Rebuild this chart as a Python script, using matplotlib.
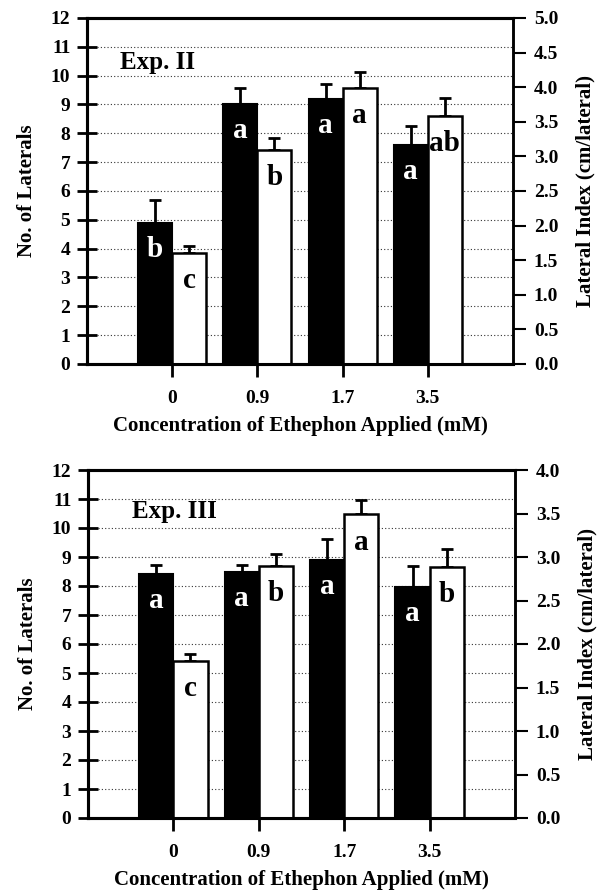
import matplotlib
matplotlib.use("Agg")
import matplotlib.pyplot as plt
import numpy as np

plt.rcParams['font.family'] = ['Liberation Serif', 'DejaVu Serif']
plt.rcParams['font.weight'] = 'bold'

categories = ['0', '0.9', '1.7', '3.5']

exp2_laterals = [4.9, 9.0, 9.2, 7.6]
exp2_laterals_err = [0.8, 0.57, 0.5, 0.66]
exp2_index = [1.61, 3.09, 3.99, 3.59]
exp2_index_err = [0.09, 0.17, 0.23, 0.26]
exp2_letters_laterals = ['b', 'a', 'a', 'a']
exp2_letters_index = ['c', 'b', 'a', 'ab']

exp3_laterals = [8.41, 8.49, 8.9, 7.97]
exp3_laterals_err = [0.31, 0.23, 0.71, 0.72]
exp3_index = [1.81, 2.90, 3.49, 2.89]
exp3_index_err = [0.08, 0.13, 0.17, 0.20]
exp3_letters_laterals = ['a', 'a', 'a', 'a']
exp3_letters_index = ['c', 'b', 'a', 'b']

left_ticks = list(range(0, 13))
exp2_right_ticks = [0.0, 0.5, 1.0, 1.5, 2.0, 2.5, 3.0, 3.5, 4.0, 4.5, 5.0]
exp3_right_ticks = [0.0, 0.5, 1.0, 1.5, 2.0, 2.5, 3.0, 3.5, 4.0]

fig = plt.figure(figsize=(5.99, 8.94), dpi=100)


def panel(rect, lat, lat_err, idx, idx_err, let_lat, let_idx, rticks, title, title_pos):
    ax = fig.add_axes(rect)
    axr = ax.twinx()
    x = np.arange(len(categories))
    w = 0.4
    ax.set_xlim(-1, len(categories))
    ax.set_ylim(0, 12)
    axr.set_ylim(0, rticks[-1])
    # grid
    for g in left_ticks[1:-1]:
        ax.axhline(g, color='#333333', linestyle=(0, (1, 2)), linewidth=0.8, zorder=0)
    ax.bar(x - w / 2, lat, width=w, color='black', edgecolor='black', linewidth=1.5, zorder=2)
    ax.errorbar(x - w / 2, lat, yerr=[np.zeros(len(lat)), lat_err], fmt='none',
                ecolor='black', elinewidth=2, capsize=4, capthick=2, zorder=1)
    axr.bar(x + w / 2, idx, width=w, color='white', edgecolor='black', linewidth=1.8, zorder=2)
    axr.errorbar(x + w / 2, idx, yerr=[np.zeros(len(idx)), idx_err], fmt='none',
                 ecolor='black', elinewidth=2, capsize=4, capthick=2, zorder=1)
    for xi, v, t in zip(x - w / 2, lat, let_lat):
        ax.annotate(t, (xi, v), xytext=(0, -19), textcoords='offset points',
                    ha='center', va='center', color='white', fontsize=21, fontweight='bold', zorder=5)
    for xi, v, t in zip(x + w / 2, idx, let_idx):
        axr.annotate(t, (xi, v), xytext=(0, -20), textcoords='offset points',
                     ha='center', va='center', color='black', fontsize=21, fontweight='bold', zorder=5)
    ax.text(title_pos[0], title_pos[1], title, transform=ax.transAxes, fontsize=18,
            fontweight='bold', ha='left', va='center')

    ax.set_xticks(x)
    ax.set_xticklabels(categories, fontsize=14, fontweight='bold')
    ax.set_yticks(left_ticks)
    ax.set_yticklabels([str(t) for t in left_ticks], fontsize=14, fontweight='bold')
    axr.set_yticks(rticks)
    axr.set_yticklabels([f'{t:.1f}' for t in rticks], fontsize=14, fontweight='bold')

    ax.tick_params(axis='y', direction='inout', length=14, width=2, pad=5)
    ax.tick_params(axis='x', direction='out', length=9.5, width=2, pad=9)
    axr.tick_params(axis='y', direction='out', length=9, width=1.5, pad=6)

    for a in (ax, axr):
        for s in ['left', 'bottom', 'top']:
            a.spines[s].set_linewidth(2.2)
        a.spines['right'].set_linewidth(1.8)

    ax.set_ylabel('No. of Laterals', fontsize=15, fontweight='bold', labelpad=10)
    axr.set_ylabel('Lateral Index (cm/lateral)', fontsize=15, fontweight='bold', labelpad=12)
    ax.set_xlabel('Concentration of Ethephon Applied (mM)', fontsize=15, fontweight='bold', labelpad=7)
    ax.set_zorder(1)
    ax.patch.set_visible(False)
    axr.set_zorder(2)
    axr.patch.set_visible(False)
    return ax, axr


panel([87 / 599, 1 - 364 / 894, 426 / 599, 346 / 894],
      exp2_laterals, exp2_laterals_err, exp2_index, exp2_index_err,
      exp2_letters_laterals, exp2_letters_index, exp2_right_ticks, 'Exp. II', (0.077, 0.87))
panel([88 / 599, 1 - 818 / 894, 427 / 599, 348 / 894],
      exp3_laterals, exp3_laterals_err, exp3_index, exp3_index_err,
      exp3_letters_laterals, exp3_letters_index, exp3_right_ticks, 'Exp. III', (0.103, 0.88))

fig.savefig('out.png', dpi=100)
